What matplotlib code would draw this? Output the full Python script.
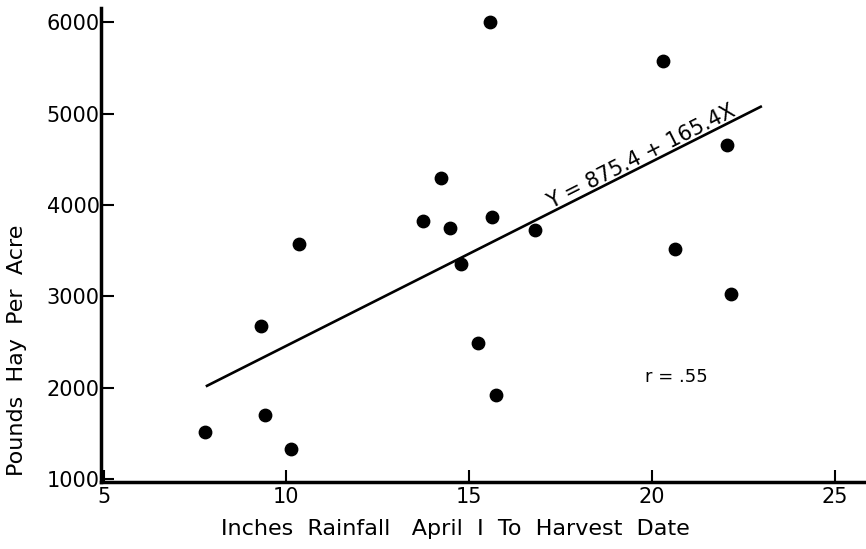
import matplotlib
matplotlib.use('Agg')
import matplotlib.pyplot as plt

rain = [7.77, 10.12, 9.30, 9.41, 10.36, 13.73, 14.23, 14.48, 14.77, 15.25,
        15.56, 15.63, 15.74, 16.80, 20.30, 20.63, 22.07, 22.16]
hay = [1520, 1325, 2675, 1700, 3570, 3825, 4300, 3750, 3350, 2485,
       6000, 3865, 1920, 3725, 5575, 3515, 4655, 3030]

# regression line as drawn on the original
line_x = [7.83, 22.98]
line_y = [2020, 5075]

xticks = [5, 10, 15, 20, 25]
yticks = [1000, 2000, 3000, 4000, 5000, 6000]

fig = plt.figure(figsize=(8.66, 5.49), dpi=100)
ax = fig.add_axes([0.1166, 0.122, 0.8834, 0.863])

ax.scatter(rain, hay, s=80, color='black', zorder=3)
ax.plot(line_x, line_y, color='black', lw=1.9)

ax.text(19.71, 4530, 'Y = 875.4 + 165.4X', rotation=26.8, ha='center', va='center',
        fontsize=15)
ax.text(20.66, 2116, 'r = .55', ha='center', va='center', fontsize=13)

ax.set_xlim(4.93, 25.86)
ax.set_ylim(967, 6153)
ax.set_xticks(xticks)
ax.set_yticks(yticks)
ax.tick_params(direction='in', length=9, width=1.5, labelsize=15)
ax.tick_params(axis='y', pad=1)

for s in ['top', 'right']:
    ax.spines[s].set_visible(False)
for s in ['left', 'bottom']:
    ax.spines[s].set_linewidth(2.5)

ax.set_xlabel('Inches  Rainfall   April  I  To  Harvest  Date', fontsize=16)
ax.set_ylabel('Pounds  Hay  Per  Acre', fontsize=16)
ax.xaxis.set_label_coords(0.463, -0.078)
ax.yaxis.set_label_coords(-0.097, 0.278)

fig.savefig('out.png', dpi=100)
